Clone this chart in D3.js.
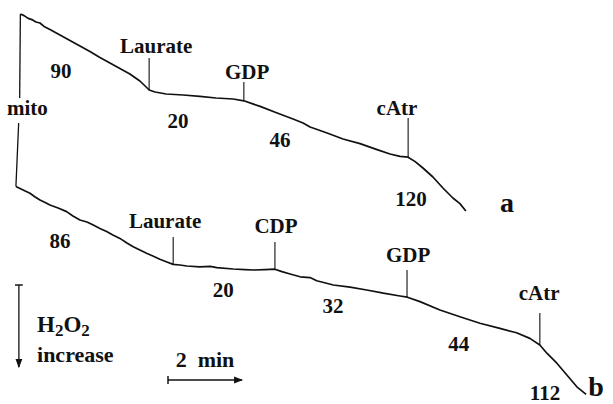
<!DOCTYPE html>
<html>
<head>
<meta charset="utf-8">
<script src="https://cdn.jsdelivr.net/npm/d3@7"></script>
<style>
  body { margin: 0; background: #fff; }
  text { font-family: "Liberation Serif", "Times New Roman", serif; font-weight: bold; fill: #111; }
</style>
</head>
<body>
<div id="chart"></div>
<script>
'use strict';

// time in min, signal in arbitrary units (grows downward = H2O2 increase)
const traceA = [
  [0.01,3.5],[0.11,3.9],[0.22,4.6],[0.32,4.9],[0.43,5.5],[0.54,5.75],[0.65,6.6],[0.81,7.4],
  [1.08,8.75],[1.35,10.1],[1.62,11.5],[1.89,12.9],[2.16,14.4],[2.43,15.75],[2.70,17.1],[2.97,18.5],
  [3.24,20.25],[3.41,21.75],[3.49,22.5],[3.65,23],[3.95,23.5],[4.41,23.75],[4.86,24.1],[5.30,24.5],
  [5.76,24.75],[6.05,25.2],[6.49,26.6],[6.95,28.25],[7.38,29.75],[7.65,30.75],[7.84,31.75],[8.30,33.25],
  [8.73,34.75],[9.19,35.9],[9.65,37.4],[10.0,38.5],[10.27,39.1],[10.49,39.3],[10.68,40.4],[10.89,42],
  [11.16,44.25],[11.43,47],[11.70,49.5],[11.89,50.9],[12.05,52.75]
]
const traceB = [
  [-0.11,46.6],[0,47.1],[0.14,47.75],[0.27,48.3],[0.41,49.25],[0.54,50],[0.68,50.6],[0.81,51.25],
  [1.03,52],[1.26,52.9],[1.43,54],[1.62,55],[1.81,55.5],[1.98,56.25],[2.16,57.1],[2.34,57.9],
  [2.51,58.75],[2.70,59.6],[2.89,60.75],[3.06,61.7],[3.24,62.5],[3.42,63.3],[3.59,64],[3.78,64.8],
  [3.97,65.5],[4.14,66.1],[4.32,66.25],[4.51,66.5],[4.86,66.7],[5.14,66.6],[5.32,66.9],[5.76,67.25],
  [6.08,67.4],[6.31,67.5],[6.62,67.4],[6.89,67.3],[7.08,67.9],[7.30,68.5],[7.57,69.2],[7.84,69.4],
  [8.02,70.2],[8.47,71.25],[8.92,71.8],[9.37,72.5],[9.82,73.3],[10.27,74],[10.47,74.3],[10.81,75.4],
  [11.35,77.5],[11.89,79.2],[12.43,80.8],[12.97,82.1],[13.42,83.2],[13.78,84.6],[14.05,86.25],
  [14.24,88.3],[14.51,90.8],[14.78,93.75],[15.05,96.7],[15.30,98.6]
]

// additions: name, time, tick top, label anchor [t, s]
const eventsA = [
  ['Laurate', 3.49, 14.5, [3.68, 13.25]],
  ['GDP', 6.05, 20.5, [6.14, 19.75]],
  ['cAtr', 10.49, 29.5, [10.19, 28.75]],
]
const eventsB = [
  ['Laurate', 4.14, 59.25, [3.92, 57]],
  ['CDP', 6.89, 60.5, [6.92, 58.25]],
  ['GDP', 10.46, 67.5, [10.49, 65.5]],
  ['cAtr', 14.05, 78.25, [14.03, 75]],
]

// rates and where they are written [t, s]
const ratesA = [90, 20, 46, 120]
const rateAnchorsA = [[1.11, 19.5], [4.27, 32], [7.03, 36.75], [10.57, 51.5]]
const ratesB = [86, 20, 32, 44, 112]
const rateAnchorsB = [[1.08, 62], [5.49, 74.25], [8.46, 78.25], [11.86, 87.75], [14.19, 100]]

const traceNames = ['a', 'b']
const traceNameAnchors = [[12.97, 53], [15.36, 99]]

const W = 613, H = 404
const x = d3.scaleLinear().domain([0, 16]).range([20, 612])
const y = d3.scaleLinear().domain([0, 101]).range([0, 404])

const svg = d3.select('#chart').append('svg')
  .attr('width', W).attr('height', H)

const defs = svg.append('defs')
defs.append('marker').attr('id', 'head')
  .attr('viewBox', '0 0 8 8').attr('refX', 7).attr('refY', 4)
  .attr('markerWidth', 7).attr('markerHeight', 7).attr('orient', 'auto')
  .append('path').attr('d', 'M0,1 L8,4 L0,7 Z').attr('fill', '#111')
defs.append('marker').attr('id', 'cap')
  .attr('viewBox', '0 0 2 8').attr('refX', 1).attr('refY', 4)
  .attr('markerWidth', 2).attr('markerHeight', 6).attr('orient', 'auto')
  .append('path').attr('d', 'M1,0 L1,8').attr('stroke', '#111').attr('stroke-width', 1.5)

const line = d3.line().x(d => x(d[0])).y(d => y(d[1]))

const valueAt = (trace, t) => {
  const i = d3.bisector(d => d[0]).left(trace, t)
  if (i <= 0) return trace[0][1]
  if (i >= trace.length) return trace[trace.length - 1][1]
  const a = trace[i - 1], b = trace[i]
  return a[1] + (b[1] - a[1]) * (t - a[0]) / (b[0] - a[0])
}

const drawTrace = (trace, events, rates, anchors) => {
  svg.append('path').datum(trace)
    .attr('d', line)
    .attr('fill', 'none').attr('stroke', '#111')
    .attr('stroke-width', 1.7).attr('stroke-linejoin', 'round')

  events.forEach(ev => {
    svg.append('line')
      .attr('x1', x(ev[1])).attr('x2', x(ev[1]))
      .attr('y1', y(ev[2])).attr('y2', y(valueAt(trace, ev[1])))
      .attr('stroke', '#111').attr('stroke-width', 1.1)
    svg.append('text')
      .attr('x', x(ev[3][0])).attr('y', y(ev[3][1]))
      .attr('text-anchor', 'middle').attr('font-size', 21)
      .text(ev[0])
  })

  rates.forEach((r, i) => {
    svg.append('text')
      .attr('x', x(anchors[i][0])).attr('y', y(anchors[i][1]))
      .attr('text-anchor', 'middle').attr('font-size', 21)
      .text(r)
  })
}

drawTrace(traceA, eventsA, ratesA, rateAnchorsA)
drawTrace(traceB, eventsB, ratesB, rateAnchorsB)

traceNames.forEach((n, i) => {
  svg.append('text')
    .attr('x', x(traceNameAnchors[i][0])).attr('y', y(traceNameAnchors[i][1]))
    .attr('font-size', 28)
    .text(n)
})

// mito addition, joining the two starts
const mitoTop = traceA[0], mitoBot = traceB[0]
svg.append('line')
  .attr('x1', x(mitoTop[0])).attr('y1', y(mitoTop[1]))
  .attr('x2', x(mitoTop[0]) - 0.7).attr('y2', y(24.5))
  .attr('stroke', '#111').attr('stroke-width', 1.3)
svg.append('line')
  .attr('x1', x(mitoTop[0]) - 1.7).attr('y1', y(30.75))
  .attr('x2', x(mitoBot[0])).attr('y2', y(mitoBot[1]))
  .attr('stroke', '#111').attr('stroke-width', 1.3)
svg.append('text')
  .attr('x', x(mitoTop[0]) + 7).attr('y', y(28.75))
  .attr('text-anchor', 'middle').attr('font-size', 21)
  .text('mito')

// H2O2 increase arrow
const legendArrow = [71.25, 91.75]
svg.append('line')
  .attr('x1', x(-0.03)).attr('x2', x(-0.03))
  .attr('y1', y(legendArrow[0])).attr('y2', y(legendArrow[1]))
  .attr('stroke', '#111').attr('stroke-width', 1.3)
  .attr('marker-start', 'url(#cap)').attr('marker-end', 'url(#head)')

const h2o2 = svg.append('text')
  .attr('x', x(0.46)).attr('y', y(83)).attr('font-size', 23)
h2o2.append('tspan').text('H')
h2o2.append('tspan').attr('dy', 4).attr('font-size', 17).text('2')
h2o2.append('tspan').attr('dy', -4).text('O')
h2o2.append('tspan').attr('dy', 4).attr('font-size', 17).text('2')
svg.append('text')
  .attr('x', x(0.46)).attr('y', y(90.5)).attr('font-size', 22)
  .text('increase')

// time scale bar
const scaleBar = [4, 6]
svg.append('line')
  .attr('x1', x(scaleBar[0])).attr('x2', x(scaleBar[1]))
  .attr('y1', y(95)).attr('y2', y(95))
  .attr('stroke', '#111').attr('stroke-width', 1.3)
  .attr('marker-start', 'url(#cap)').attr('marker-end', 'url(#head)')
svg.append('text')
  .attr('x', x(d3.mean(scaleBar))).attr('y', y(91.75))
  .attr('text-anchor', 'middle').attr('font-size', 22)
  .style('white-space', 'pre')
  .text('2  min')
</script>
</body>
</html>
